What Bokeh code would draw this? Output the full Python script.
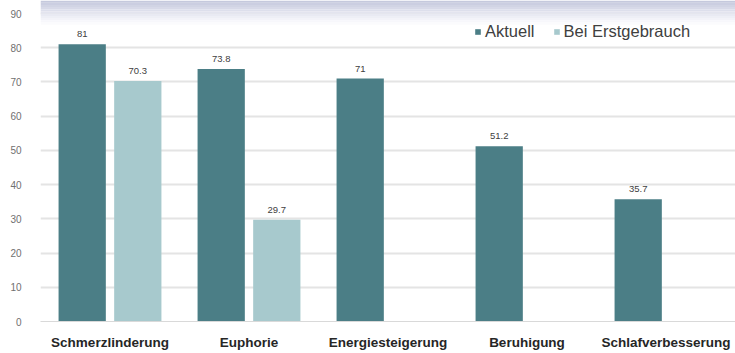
from bokeh.plotting import figure
from bokeh.models import ColumnDataSource, FixedTicker, Range1d, BoxAnnotation, Legend, LegendItem
from bokeh.core.properties import value
from bokeh.embed import file_html
from bokeh.resources import INLINE

categories = ["Schmerzlinderung", "Euphorie", "Energiesteigerung", "Beruhigung", "Schlafverbesserung"]
aktuell = [81, 73.8, 71, 51.2, 35.7]
erstgebrauch = [70.3, 29.7, None, None, None]
y_ticks = [0, 10, 20, 30, 40, 50, 60, 70, 80, 90]

DARK = "#4b7e86"
LIGHT = "#a7c9cd"

W, H = 735, 353
p = figure(width=W, height=H, output_backend="svg", toolbar_location=None,
           x_range=Range1d(-0.5, 4.5), y_range=Range1d(0, 93.8),
           min_border_left=40, min_border_right=0, min_border_top=0, min_border_bottom=32)
p.outline_line_color = None
p.background_fill_color = "white"
p.border_fill_color = "white"

# top gradient band (screenshot artifact)
steps = ["#c5c9dd", "#cbcee1", "#d1d4e4", "#d7d9e8", "#dddfec", "#e3e4ef", "#e9eaf3",
         "#eeeff6", "#f3f3f9", "#f7f7fb", "#fbfbfd"]
px = 93.8 / 321.0
for i, c in enumerate(steps):
    p.add_layout(BoxAnnotation(top=93.8 - i * 2.2 * px, bottom=93.8 - (i + 1) * 2.2 * px,
                               fill_color=c, fill_alpha=1, line_color=None, level="underlay"))

off = 0.2
bw = 0.34
xs_a = [i - off for i in range(len(categories))]
src_a = ColumnDataSource(dict(x=xs_a, top=aktuell, lab=[("%g" % v) for v in aktuell]))
xe, te, le = [], [], []
for i, v in enumerate(erstgebrauch):
    if v is not None:
        xe.append(i + off); te.append(v); le.append("%g" % v)
src_e = ColumnDataSource(dict(x=xe, top=te, lab=le))

r_a = p.vbar(x="x", top="top", width=bw, source=src_a, fill_color=DARK, line_color=None)
r_e = p.vbar(x="x", top="top", width=bw, source=src_e, fill_color=LIGHT, line_color=None)

for s in (src_a, src_e):
    p.text(x="x", y="top", text="lab", source=s, text_align="center", text_baseline="bottom",
           y_offset=-7, text_font_size="9.5px", text_color="#404040",
           text_font=value("Liberation Sans"))

p.xaxis.ticker = FixedTicker(ticks=list(range(len(categories))))
p.xaxis.major_label_overrides = {i: c for i, c in enumerate(categories)}
p.xaxis.major_label_text_font = "Liberation Sans"
p.xaxis.major_label_text_font_style = "bold"
p.xaxis.major_label_text_font_size = "13.5px"
p.xaxis.major_label_text_color = "#262626"
p.xaxis.axis_line_color = "#d9d9d9"
p.xaxis.major_tick_line_color = None
p.xaxis.minor_tick_line_color = None
p.xaxis.major_label_standoff = 7

p.yaxis.ticker = FixedTicker(ticks=y_ticks)
p.yaxis.axis_line_color = None
p.yaxis.major_tick_line_color = None
p.yaxis.minor_tick_line_color = None
p.yaxis.major_label_text_font = "Liberation Sans"
p.yaxis.major_label_text_font_size = "10px"
p.yaxis.major_label_text_color = "#707070"
p.yaxis.major_label_standoff = 13

p.xgrid.grid_line_color = None
p.ygrid.ticker = FixedTicker(ticks=y_ticks)
p.ygrid.grid_line_color = "#e4e4e4"
p.ygrid.grid_line_width = 2

legend = Legend(items=[LegendItem(label="Aktuell", renderers=[r_a]),
                       LegendItem(label="Bei Erstgebrauch", renderers=[r_e])],
                orientation="horizontal", location=(434, 280),
                border_line_color=None, background_fill_alpha=0,
                glyph_width=7, glyph_height=7, label_text_font="Liberation Sans",
                label_text_font_size="16.5px", label_text_color="#404040",
                spacing=18, padding=0, margin=0, label_standoff=4)
p.add_layout(legend)

open("out.html", "w").write(file_html(p, INLINE))
